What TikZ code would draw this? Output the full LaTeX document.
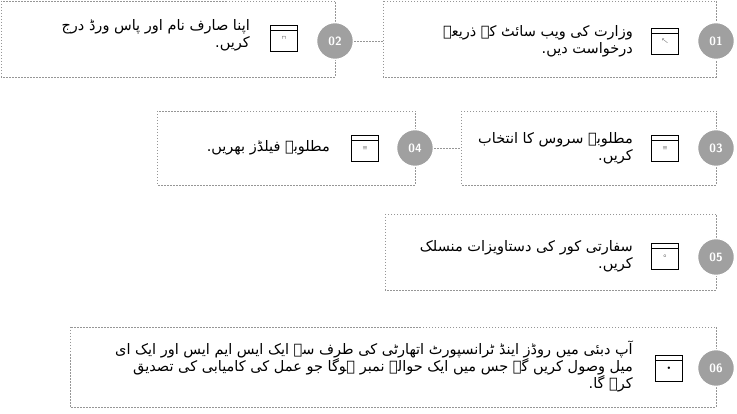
\documentclass[tikz,border=0pt]{standalone}
\usepackage{fontspec}
\newfontfamily\urdufont[Script=Arabic]{DejaVu Sans}
\TeXXeTstate=1
\usetikzlibrary{positioning}
\definecolor{dotgray}{RGB}{150,150,150}
\definecolor{numgray}{RGB}{160,160,160}
\begin{document}
\begin{tikzpicture}[x=1pt,y=-1pt,
	card/.style={draw=dotgray,dash pattern=on 1.5pt off 1.5pt,line width=0.9pt},
	num/.style={circle,fill=numgray,draw=white,line width=1.5pt,minimum size=37pt,text=white,font=\sffamily\bfseries\large},
	link/.style={draw=dotgray,dash pattern=on 1.5pt off 1.5pt,line width=0.9pt},
	icon/.style={draw,line width=0.6pt,minimum width=27pt,minimum height=26pt,inner sep=0pt,
		path picture={\draw ([yshift=-5pt]path picture bounding box.north west) -- ([yshift=-5pt]path picture bounding box.north east);}},
	txt/.style={align=right,font=\urdufont\fontsize{14.5}{17}\selectfont,anchor=east,inner sep=0pt}]
	\useasboundingbox (0,0) rectangle (737,414);

	% boxes
	\draw[card] (383,1) rectangle (716,77);
	\draw[card] (1,1) rectangle (335,77);
	\draw[card] (461,111) rectangle (716,185);
	\draw[card] (157,111) rectangle (415,185);
	\draw[card] (385,214) rectangle (716,290);
	\draw[card] (70,327) rectangle (716,407);

	% numbers
	\node[num] (n1) at (716,41) {01};
	\node[num] (n2) at (335,41) {02};
	\node[num] (n3) at (716,148) {03};
	\node[num] (n4) at (415,148) {04};
	\node[num] (n5) at (716,257) {05};
	\node[num] (n6) at (716,368) {06};
	\coordinate (b1) at (383,41);
	\coordinate (b3) at (461,148);
	\draw[link] (n2) -- (b1);
	\draw[link] (n4) -- (b3);

	% icons
	\node[icon] (i1) at (665,41) {\tiny$\nwarrow$};
	\node[icon] (i2) at (284,38) {\tiny$\sqcap$};
	\node[icon] (i3) at (665,148) {\tiny$\equiv$};
	\node[icon] (i4) at (365,148) {\tiny$\equiv$};
	\node[icon] (i5) at (665,256) {\tiny$\circ$};
	\node[icon] (i6) at (669,368) {\tiny$\bullet$};

	% texts
	\node[txt] (t1) at (633,41) {\beginR وزارت کی ویب سائٹ کے ذریعے\endR\\\beginR درخواست دیں.\endR};
	\node[txt] (t2) at (250,35) {\beginR اپنا صارف نام اور پاس ورڈ درج\endR\\\beginR کریں.\endR};
	\node[txt] (t3) at (633,148) {\beginR مطلوبہ سروس کا انتخاب\endR\\\beginR کریں.\endR};
	\node[txt] (t4) at (330,148) {\beginR مطلوبہ فیلڈز بھریں.\endR};
	\node[txt] (t5) at (633,256) {\beginR سفارتی کور کی دستاویزات منسلک\endR\\\beginR کریں.\endR};
	\node[txt] (t6) at (633,366) {\beginR آپ دبئی میں روڈز اینڈ ٹرانسپورٹ اتھارٹی کی طرف سے ایک ایس ایم ایس اور ایک ای\endR\\\beginR میل وصول کریں گے جس میں ایک حوالہ نمبر ہوگا جو عمل کی کامیابی کی تصدیق\endR\\\beginR کرے گا.\endR};
\end{tikzpicture}
\end{document}
